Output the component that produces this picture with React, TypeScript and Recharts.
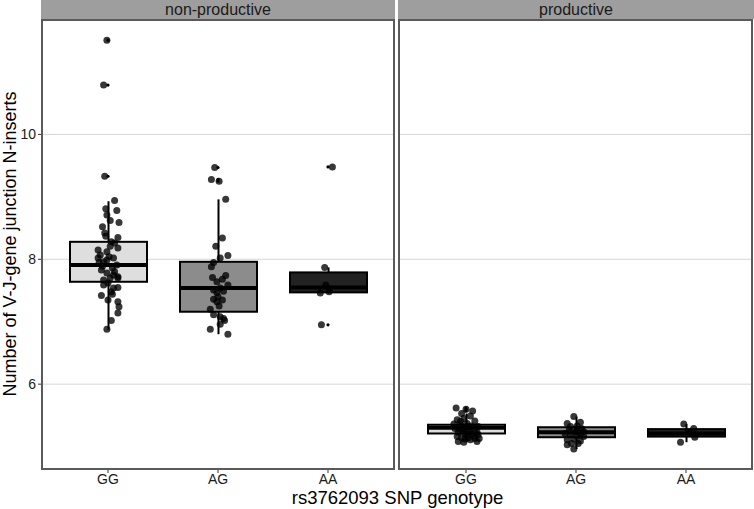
import React from "react";
import { ComposedChart, Bar, Scatter, XAxis, YAxis, CartesianGrid } from "recharts";

const genotypes = ["GG", "AG", "AA"];
const yTicks = [6, 8, 10];
const yDomain = [4.641, 11.833];

// box statistics, in genotype order
const npLower = [6.87, 6.8, 7.46];
const npQ1 = [7.64, 7.16, 7.47];
const npMedian = [7.91, 7.54, 7.55];
const npQ3 = [8.28, 7.96, 7.79];
const npUpper = [8.93, 8.96, 7.87];
const npOutliers: [number, number][] = [
  [0, 11.51], [0, 10.79], [0, 9.33], [1, 9.47], [1, 9.28], [1, 9.25], [2, 9.48], [2, 6.95],
];

const pLower = [5.07, 4.96, 5.07];
const pQ1 = [5.21, 5.15, 5.16];
const pMedian = [5.3, 5.23, 5.21];
const pQ3 = [5.35, 5.31, 5.28];
const pUpper = [5.53, 5.48, 5.36];
const pOutliers: [number, number][] = [[0, 5.62], [0, 5.6], [0, 5.57]];

// jittered observations: [horizontal jitter, value]
const npGG: [number, number][] = [
  [-0.01, 11.51], [-0.04, 10.79], [-0.03, 9.33], [0.06, 8.94], [-0.02, 8.81], [0.08, 8.78],
  [-0.01, 8.71], [0.02, 8.62], [0.1, 8.59], [-0.03, 8.42], [-0.02, 8.37], [0.09, 8.35],
  [0.03, 8.28], [0.06, 8.26], [0.09, 8.18], [-0.09, 8.15], [-0.01, 8.12], [-0.07, 8.07],
  [0.01, 8.04], [-0.09, 8.02], [-0.01, 7.99], [0.08, 7.91], [-0.05, 7.89], [0.04, 7.86],
  [-0.06, 7.83], [-0.01, 7.78], [0.06, 7.8], [0.05, 7.75], [0.09, 7.72], [0.02, 7.7],
  [0.09, 7.7], [-0.04, 7.67], [0.0, 7.62], [-0.04, 7.59], [0.05, 7.54], [0.09, 7.55],
  [0.03, 7.48], [-0.06, 7.42], [0.0, 7.35], [0.09, 7.32], [0.1, 7.24], [0.09, 7.14],
  [0.03, 7.02], [-0.01, 6.88], [-0.04, 7.96], [0.02, 8.21], [-0.05, 8.52], [0.04, 7.44],
  [-0.08, 7.95], [0.05, 8.02],
];
const npAG: [number, number][] = [
  [-0.03, 9.47], [-0.06, 9.28], [0.01, 9.25], [0.07, 8.96], [0.04, 8.34], [-0.02, 8.21],
  [0.09, 8.06], [0.02, 8.02], [-0.04, 7.95], [-0.06, 7.88], [0.07, 7.74], [-0.05, 7.71],
  [0.04, 7.68], [-0.01, 7.64], [0.09, 7.59], [0.02, 7.54], [-0.01, 7.47], [0.0, 7.4],
  [-0.04, 7.36], [0.04, 7.35], [-0.01, 7.32], [0.01, 7.25], [-0.07, 7.2], [-0.04, 7.11],
  [0.02, 7.08], [0.05, 7.05], [0.06, 7.02], [0.02, 6.96], [-0.07, 6.88], [0.09, 6.8],
  [-0.04, 7.51], [0.05, 7.49],
];
const npAA: [number, number][] = [
  [0.04, 9.48], [-0.03, 7.87], [-0.02, 7.59], [0.01, 7.53], [-0.07, 7.46], [0.01, 7.48], [-0.06, 6.95],
];
const pGG: [number, number][] = [
  [-0.09, 5.62], [0.0, 5.6], [0.06, 5.57], [-0.04, 5.53], [0.04, 5.49], [-0.08, 5.43],
  [-0.02, 5.45], [0.08, 5.41], [0.01, 5.37], [-0.05, 5.35], [0.05, 5.33], [0.11, 5.32],
  [-0.1, 5.29], [-0.02, 5.29], [0.02, 5.27], [0.08, 5.25], [-0.07, 5.23], [-0.01, 5.21],
  [0.05, 5.2], [0.11, 5.19], [-0.08, 5.16], [-0.04, 5.14], [0.02, 5.14], [0.08, 5.13],
  [0.12, 5.13], [-0.07, 5.08], [0.04, 5.11], [-0.02, 5.07], [0.1, 5.08], [0.01, 5.32],
  [-0.05, 5.4], [-0.11, 5.36], [0.04, 5.24], [-0.03, 5.25], [0.01, 5.19], [0.07, 5.17],
  [-0.06, 5.28], [0.1, 5.23], [-0.01, 5.12],
];
const pAG: [number, number][] = [
  [-0.02, 5.48], [-0.08, 5.37], [0.04, 5.39], [-0.05, 5.32], [0.01, 5.33], [0.05, 5.29],
  [-0.06, 5.27], [0.0, 5.24], [0.04, 5.21], [-0.05, 5.19], [0.01, 5.17], [0.07, 5.16],
  [-0.08, 5.11], [-0.02, 5.12], [0.04, 5.09], [-0.04, 5.05], [-0.08, 5.03], [-0.02, 4.96],
  [0.02, 5.05], [0.07, 5.24], [-0.1, 5.21], [0.01, 5.28],
];
const pAA: [number, number][] = [
  [-0.02, 5.36], [0.07, 5.29], [0.08, 5.15], [-0.05, 5.07], [0.02, 5.23],
];

const boxFills = ["#dedede", "#8c8c8c", "#222222"];
const font = "'Liberation Sans', Arial, sans-serif";

function buildBoxes(lower: number[], q1: number[], median: number[], q3: number[], upper: number[]) {
  return genotypes.map((g, i) => ({
    name: g,
    x: i + 1,
    g: i,
    range: [lower[i], upper[i]],
    q1: q1[i],
    median: median[i],
    q3: q3[i],
  }));
}

function buildPoints(groups: [number, number][][]) {
  return groups.flatMap((grp, i) => grp.map(([j, v]) => ({ x: i + 1 + j, y: v })));
}

function BoxShape(props: any) {
  const { x, y, width, height, payload } = props;
  const [lo, hi] = payload.range;
  const top = Math.min(y, y + height);
  const bottom = Math.max(y, y + height);
  const py = (v: number) => bottom - ((bottom - top) * (v - lo)) / (hi - lo);
  const cx = x + width / 2;
  return (
    <g>
      <line x1={cx} x2={cx} y1={py(hi)} y2={py(lo)} stroke="#000" strokeWidth={2} />
      <rect
        x={x}
        y={py(payload.q3)}
        width={width}
        height={py(payload.q1) - py(payload.q3)}
        fill={boxFills[payload.g]}
        stroke="#000"
        strokeWidth={2}
      />
      <line x1={x} x2={x + width} y1={py(payload.median)} y2={py(payload.median)} stroke="#000" strokeWidth={4} />
    </g>
  );
}

const JitterDot = (p: any) => <circle cx={p.cx} cy={p.cy} r={3.5} fill="#000" fillOpacity={0.78} />;
const SmallDot = (p: any) => <circle cx={p.cx} cy={p.cy} r={1.6} fill="#000" />;

function Panel({ boxes, points, outliers, showY, width }: any) {
  return (
    <ComposedChart width={width} height={479} data={boxes} margin={{ top: 0, right: 0, bottom: 0, left: 0 }}>
      <CartesianGrid vertical={false} stroke="#d6d6d6" strokeWidth={1} />
      <XAxis
        type="number"
        dataKey="x"
        domain={[0.4, 3.6]}
        ticks={[1, 2, 3]}
        interval={0}
        allowDataOverflow
        tickFormatter={(v: number) => genotypes[v - 1]}
        height={30}
        axisLine={false}
        tickSize={4}
        tickMargin={1}
        tickLine={{ stroke: "#333" }}
        tick={{ fontSize: 14, fill: "#1a1a1a", fontFamily: font }}
      />
      <XAxis xAxisId="box" type="category" dataKey="name" hide padding={{ left: 11, right: 11 }} />
      <YAxis
        type="number"
        domain={yDomain}
        ticks={yTicks}
        allowDataOverflow
        hide={!showY}
        width={showY ? 42 : 0}
        axisLine={false}
        tickSize={4}
        tickMargin={2}
        tickLine={{ stroke: "#333" }}
        tick={{ fontSize: 14, fill: "#1a1a1a", fontFamily: font }}
      />
      <Bar xAxisId="box" dataKey="range" barSize={77} shape={BoxShape} isAnimationActive={false} />
      <Scatter data={outliers} dataKey="y" shape={SmallDot} isAnimationActive={false} />
      <Scatter data={points} dataKey="y" shape={JitterDot} isAnimationActive={false} />
    </ComposedChart>
  );
}

export default function App() {
  const npBoxes = buildBoxes(npLower, npQ1, npMedian, npQ3, npUpper);
  const pBoxes = buildBoxes(pLower, pQ1, pMedian, pQ3, pUpper);
  const npPoints = buildPoints([npGG, npAG, npAA]);
  const pPoints = buildPoints([pGG, pAG, pAA]);
  const npOut = npOutliers.map(([g, v]) => ({ x: g + 1, y: v }));
  const pOut = pOutliers.map(([g, v]) => ({ x: g + 1, y: v }));

  const strip: React.CSSProperties = {
    position: "absolute",
    top: 0,
    height: 19,
    background: "#9e9e9e",
    color: "#1a1a1a",
    fontSize: 16,
    lineHeight: "19px",
    textAlign: "center",
  };
  const border: React.CSSProperties = {
    position: "absolute",
    top: 19,
    height: 451,
    boxSizing: "border-box",
    border: "2px solid #5a5a5a",
    pointerEvents: "none",
  };

  return (
    <div style={{ position: "absolute", left: 0, top: 0, width: 754, height: 509, background: "#fff", fontFamily: font, overflow: "hidden" }}>
      <div style={{ ...strip, left: 41, width: 354 }}>non-productive</div>
      <div style={{ ...strip, left: 398, width: 356 }}>productive</div>
      <div style={{ position: "absolute", left: 0, top: 20 }}>
        <Panel boxes={npBoxes} points={npPoints} outliers={npOut} showY width={394} />
      </div>
      <div style={{ position: "absolute", left: 400, top: 20 }}>
        <Panel boxes={pBoxes} points={pPoints} outliers={pOut} showY={false} width={352} />
      </div>
      <div style={{ ...border, left: 41, width: 354 }} />
      <div style={{ ...border, left: 398, width: 355 }} />
      <div
        style={{
          position: "absolute",
          left: 10,
          top: 244,
          transform: "translate(-50%, -50%) rotate(-90deg)",
          whiteSpace: "nowrap",
          fontSize: 18,
          lineHeight: "18px",
          color: "#000",
        }}
      >
        Number of V-J-gene junction N-inserts
      </div>
      <div
        style={{
          position: "absolute",
          left: 42,
          width: 711,
          top: 489,
          textAlign: "center",
          fontSize: 18.5,
          lineHeight: "18px",
          color: "#000",
        }}
      >
        rs3762093 SNP genotype
      </div>
    </div>
  );
}
